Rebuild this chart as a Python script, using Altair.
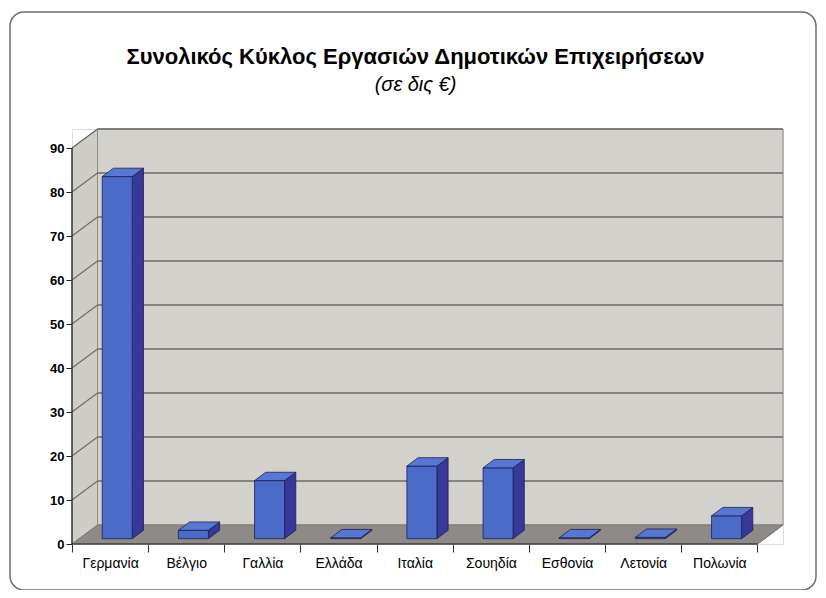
import altair as alt
import pandas as pd

# ---------------- data ----------------
categories = ["Γερμανία", "Βέλγιο", "Γαλλία", "Ελλάδα", "Ιταλία",
              "Σουηδία", "Εσθονία", "Λετονία", "Πολωνία"]
values = [82.3, 1.9, 13.2, 0.2, 16.5, 16.1, 0.2, 0.3, 5.2]
y_ticks = [0, 10, 20, 30, 40, 50, 60, 70, 80, 90]
title_text = "Συνολικός Κύκλος Εργασιών Δημοτικών Επιχειρήσεων"
subtitle_text = "(σε δις €)"

# ---------------- style / geometry ----------------
W, H = 711, 415
N = len(categories)
DX, DY = 0.335, 4.32          # 3D depth in data units
XMAX = N + DX
YMAX = y_ticks[-1] + DY
BW = 0.394                    # bar width in category units
TF, TB = 0.28, 0.72           # bar front / back depth fraction

WALL = "#d3d1cb"
SIDEWALL = "#cfcdc7"
FLOOR = "#8e8a87"
EDGE = "#8c8c8c"
GRID = "#6a6a6a"
FRONT = "#4a6cc8"
SIDE = "#38379a"
TOP = "#5677d2"
OUTLINE = "#1f1f4f"
FONT = "Liberation Sans"

# ---------------- derived tables ----------------
fx, fy = TF * DX, TF * DY
bx, by = TB * DX, TB * DY
ddx = bx - fx
bars, side, top = [], [], []
for i, (c, v) in enumerate(zip(categories, values)):
    xl = i + 0.5 - BW / 2 + fx
    xr = xl + BW
    bars.append(dict(cat=c, xl=xl, xr=xr, y0=fy, y1=v + fy))
    side += [dict(cat=c, x=xr, y0=fy, y1=v + fy),
             dict(cat=c, x=xr + ddx, y0=by, y1=v + by)]
    top += [dict(cat=c, x=xl, y0=v + fy, y1=v + fy),
            dict(cat=c, x=xl + ddx, y0=v + fy, y1=v + by),
            dict(cat=c, x=xr, y0=v + fy, y1=v + by),
            dict(cat=c, x=xr + ddx, y0=v + by, y1=v + by)]
bars_df = pd.DataFrame(bars)
side_df = pd.DataFrame(side)
top_df = pd.DataFrame(top)

back_df = pd.DataFrame([dict(x0=DX, x1=XMAX, y0=DY, y1=YMAX)])
sidewall_df = pd.DataFrame([dict(x=0, y0=0, y1=y_ticks[-1]), dict(x=DX, y0=DY, y1=YMAX)])
floor_df = pd.DataFrame([dict(x=0, y0=0, y1=0), dict(x=DX, y0=0, y1=DY),
                         dict(x=N, y0=0, y1=DY), dict(x=XMAX, y0=DY, y1=DY)])
gback_df = pd.DataFrame([dict(x0=DX, x1=XMAX, y=t + DY) for t in y_ticks[1:]])
gside_df = pd.DataFrame([dict(x0=0, x1=DX, ya=t, yb=t + DY) for t in y_ticks[1:]])
axis_df = pd.DataFrame([dict(x0=0, x1=0, ya=0, yb=y_ticks[-1]),
                        dict(x0=0, x1=N, ya=0, yb=0)])
fedge_df = pd.DataFrame([dict(x0=N, x1=XMAX, ya=0, yb=DY)])

# ---------------- scales / axes ----------------
xs = alt.Scale(domain=[0, XMAX], nice=False, zero=False)
ys = alt.Scale(domain=[0, YMAX], nice=False, zero=False)
arr = "[" + ",".join("'" + c + "'" for c in categories) + "]"
xaxis = alt.Axis(values=list(range(N + 1)), title=None, grid=False, domain=False,
                 labelExpr=f"datum.value < {N} ? {arr}[datum.value] : ''",
                 labelOffset=W / XMAX / 2, labelFlush=False, labelOverlap=False,
                 tickSize=8, tickColor="#333333", labelPadding=4,
                 labelFont=FONT, labelFontSize=14, labelColor="black")
yaxis = alt.Axis(values=y_ticks, title=None, grid=False, domain=False,
                 tickSize=6, tickColor="#222222", labelPadding=2,
                 labelFont=FONT, labelFontSize=13, labelFontWeight="bold",
                 labelColor="black")


def X(f):
    return alt.X(f, type="quantitative", scale=xs, axis=xaxis)


def Y(f):
    return alt.Y(f, type="quantitative", scale=ys, axis=yaxis)


frame = alt.Chart(pd.DataFrame({"a": [0]})).mark_rect(
    fill=None, stroke="#6f6f6f", strokeWidth=1.5, cornerRadius=14
).encode(x=alt.value(-62), x2=alt.value(744), y=alt.value(-117), y2=alt.value(461))

backwall = alt.Chart(back_df).mark_rect(fill=WALL, stroke=EDGE, strokeWidth=1).encode(
    x=X("x0"), x2="x1", y=Y("y0"), y2="y1")
sidewall = alt.Chart(sidewall_df).mark_area(fill=SIDEWALL, stroke=EDGE, strokeWidth=1).encode(
    x=X("x"), y=Y("y1"), y2="y0")
floor = alt.Chart(floor_df).mark_area(fill=FLOOR, stroke="#7a7a7a", strokeWidth=1).encode(
    x=X("x"), y=Y("y1"), y2="y0")
gback = alt.Chart(gback_df).mark_rule(color=GRID, strokeWidth=1.3).encode(
    x=X("x0"), x2="x1", y=Y("y"))
gside = alt.Chart(gside_df).mark_rule(color=GRID, strokeWidth=1.1).encode(
    x=X("x0"), x2="x1", y=Y("ya"), y2="yb")
fedge = alt.Chart(fedge_df).mark_rule(color="#7a7a7a", strokeWidth=1).encode(
    x=X("x0"), x2="x1", y=Y("ya"), y2="yb")

side_m = alt.Chart(side_df).mark_area(fill=SIDE, stroke=OUTLINE, strokeWidth=0.8).encode(
    x=X("x"), y=Y("y1"), y2="y0", detail="cat:N")
front_m = alt.Chart(bars_df).mark_rect(fill=FRONT, stroke=OUTLINE, strokeWidth=0.8).encode(
    x=X("xl"), x2="xr", y=Y("y1"), y2="y0")
top_m = alt.Chart(top_df).mark_area(fill=TOP, stroke=OUTLINE, strokeWidth=0.8).encode(
    x=X("x"), y=Y("y1"), y2="y0", detail="cat:N")

axes = alt.Chart(axis_df).mark_rule(color="#222222", strokeWidth=1.2).encode(
    x=X("x0"), x2="x1", y=Y("ya"), y2="yb")

chart = alt.layer(
    frame, backwall, sidewall, floor, gback, gside, fedge, side_m, front_m, top_m, axes
).properties(
    width=W, height=H,
    padding={"left": 64, "top": 121, "right": 35, "bottom": 46},
    autosize=alt.AutoSizeParams(type="none"),
    title=alt.TitleParams(
        text=title_text, subtitle=subtitle_text, anchor="middle",
        font=FONT, fontSize=22, fontWeight="bold", color="black",
        subtitleFont=FONT, subtitleFontSize=20, subtitleFontStyle="italic",
        subtitleColor="black", subtitlePadding=6, offset=-85, dx=-12),
).configure_view(stroke=None).configure(background="white")

chart.save("out.html", embed_options={"renderer": "svg", "actions": False})
